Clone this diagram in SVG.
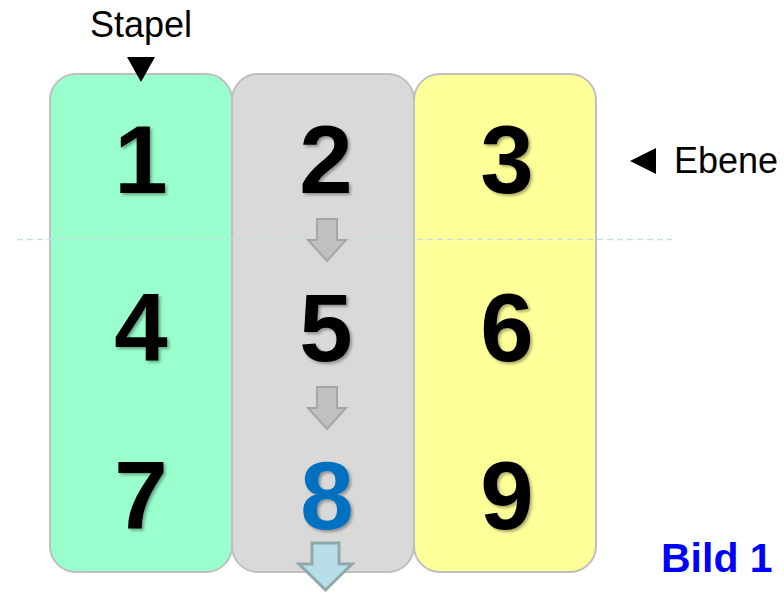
<svg xmlns="http://www.w3.org/2000/svg" width="784" height="593" viewBox="0 0 784 593">
<style>
.col{stroke:#bfbfbf;stroke-width:2}
.num{font-family:"Liberation Sans",Arial,sans-serif;font-weight:bold;font-size:96px;text-anchor:middle;fill:#000}
.lbl{font-family:"Liberation Sans",Arial,sans-serif;font-size:36px;fill:#000}
.garrow{fill:#c0c0c0;stroke:#a6a6a6;stroke-width:2;stroke-linejoin:miter}
</style>
<defs>
<filter id="sh" x="-20%" y="-20%" width="150%" height="150%">
<feGaussianBlur in="SourceAlpha" stdDeviation="1.5"/>
<feOffset dx="2" dy="2" result="o"/>
<feComponentTransfer><feFuncA type="linear" slope="0.35"/></feComponentTransfer>
<feMerge><feMergeNode/><feMergeNode in="SourceGraphic"/></feMerge>
</filter>
</defs>
<g id="stack1"><rect class="col" x="50" y="74" width="182" height="498" rx="26" fill="#99ffcc"/></g>
<g id="stack2"><rect class="col" x="232" y="74" width="182" height="498" rx="26" fill="#d9d9d9"/></g>
<g id="stack3"><rect class="col" x="414" y="74" width="182" height="498" rx="26" fill="#ffff99"/></g>
<line x1="17" y1="239.5" x2="672" y2="239.5" stroke="#c5dfe2" stroke-width="1.5" stroke-dasharray="6,4"/>
<g id="connectors">
<polygon class="garrow" points="317,219 337,219 337,240 346,240 327,261 308,240 317,240"/>
<polygon class="garrow" points="317,387 337,387 337,408 346,408 327,429 308,408 317,408"/>
<polygon points="312,543 339,543 339,564 352,564 325.5,590 299,564 312,564" fill="#b7dee8" stroke="#8fa9ab" stroke-width="3"/>
</g>
<g id="n1"><text class="num" x="141" y="193" filter="url(#sh)">1</text></g>
<g id="n2"><text class="num" x="326" y="193" filter="url(#sh)">2</text></g>
<g id="n3"><text class="num" x="507" y="193" filter="url(#sh)">3</text></g>
<g id="n4"><text class="num" x="141" y="361" filter="url(#sh)">4</text></g>
<g id="n5"><text class="num" x="326" y="361" filter="url(#sh)">5</text></g>
<g id="n6"><text class="num" x="507" y="361" filter="url(#sh)">6</text></g>
<g id="n7"><text class="num" x="141" y="529" filter="url(#sh)">7</text></g>
<g id="n8"><text class="num" x="327" y="529" style="fill:#0070c0" filter="url(#sh)">8</text></g>
<g id="n9"><text class="num" x="507" y="529" filter="url(#sh)">9</text></g>
<g id="stapel">
<text class="lbl" x="141" y="37" text-anchor="middle">Stapel</text>
<polygon points="127,57 155,57 141,82" fill="#000"/>
</g>
<g id="ebene">
<polygon points="630,161 656,148 656,174" fill="#000"/>
<text class="lbl" x="674" y="173">Ebene</text>
</g>
<text x="661" y="572" font-family="'Liberation Sans',Arial,sans-serif" font-weight="bold" font-size="41" fill="#0000ff">Bild 1</text>
</svg>
